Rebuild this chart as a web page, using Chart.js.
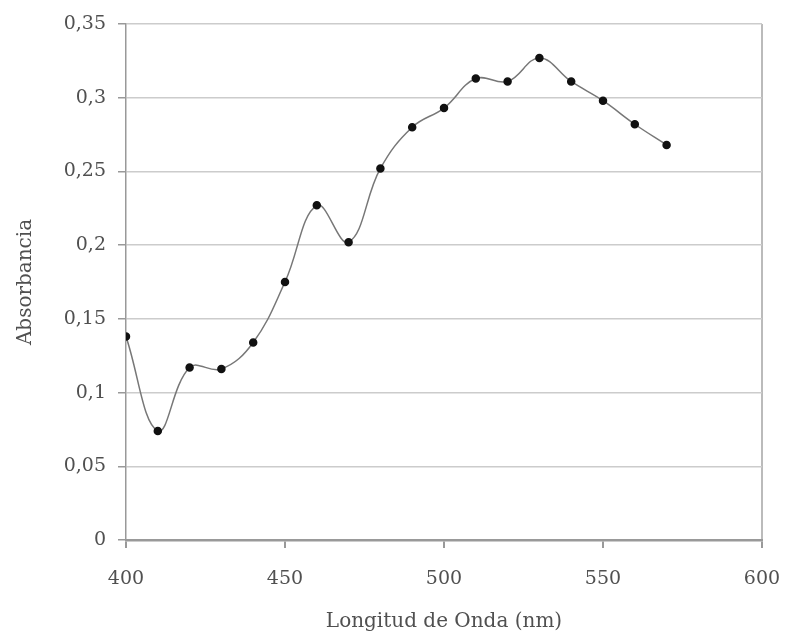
<!DOCTYPE html>
<html>
<head>
<meta charset="utf-8">
<script src="https://cdn.jsdelivr.net/npm/chart.js@4.4.1/dist/chart.umd.min.js"></script>
<style>
html,body{margin:0;padding:0;background:#fff;}
#wrap{width:787px;height:637px;position:relative;}
</style>
</head>
<body>
<div id="wrap"><canvas id="c" width="787" height="637"></canvas></div>
<script>
const wavelengths = [400,410,420,430,440,450,460,470,480,490,500,510,520,530,540,550,560,570];
const absorbance = [0.138,0.074,0.117,0.116,0.134,0.175,0.227,0.202,0.252,0.280,0.293,0.313,0.311,0.327,0.311,0.298,0.282,0.268];
const xTitle = 'Longitud de Onda (nm)';
const yTitle = 'Absorbancia';

const fmt = v => String(Math.round(v*100)/100).replace('.', ',');
const textColor = '#505050';
const fontFam = 'DejaVu Serif';

new Chart(document.getElementById('c'), {
  type: 'line',
  data: {
    datasets: [{
      data: wavelengths.map((x,i)=>({x:x, y:absorbance[i]})),
      borderColor: '#777',
      borderWidth: 1.5,
      tension: 0.4,
      pointRadius: 3.5,
      pointBackgroundColor: '#111',
      pointBorderColor: '#111',
      pointStyle: 'circle',
      fill: false
    }]
  },
  options: {
    responsive: false,
    animation: false,
    layout: { padding: { top: 24, right: 25, left: 0, bottom: 0 } },
    plugins: { legend: { display: false }, tooltip: { enabled: false } },
    scales: {
      x: {
        type: 'linear',
        min: 400, max: 600,
        ticks: { stepSize: 50, color: textColor, font: { family: fontFam, size: 19 }, padding: 20, maxRotation: 0 },
        grid: {
          color: ctx => ctx.tick && ctx.tick.value === 600 ? '#bbb' : 'rgba(0,0,0,0)',
          tickColor: '#999',
          tickLength: 8,
          lineWidth: 2
        },
        border: { color: '#999', width: 2.5 },
        title: { display: true, text: xTitle, color: textColor, font: { family: fontFam, size: 20 }, padding: { top: 8, bottom: 3 } },
        afterFit: s => { s.height = 97; s.paddingRight = 0; s.paddingLeft = 0; }
      },
      y: {
        min: 0, max: 0.35,
        ticks: { stepSize: 0.05, color: textColor, font: { family: fontFam, size: 19 }, padding: 12, callback: v => fmt(v) },
        grid: { color: '#ccc', lineWidth: 1.5, tickColor: '#999', tickLength: 8 },
        border: { color: '#999', width: 1.5 },
        title: { display: true, text: yTitle, color: textColor, font: { family: fontFam, size: 20 }, padding: { top: 14, bottom: 0 } },
        afterFit: s => { s.width = 126; }
      }
    }
  }
});
</script>
</body>
</html>
